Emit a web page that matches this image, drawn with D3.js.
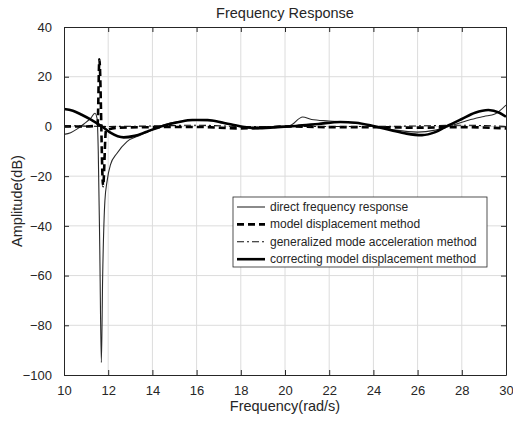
<!DOCTYPE html>
<html>
<head>
<meta charset="utf-8">
<script src="https://cdn.jsdelivr.net/npm/d3@7"></script>
<style>
  body { margin: 0; background: #fff; }
  text { font-family: "Liberation Sans", Arial, sans-serif; fill: #262626; }
</style>
</head>
<body>
<div id="chart"></div>
<script>

// x: frequency (rad/s), y: amplitude (dB)
const directFreq    = [10, 10.3, 10.6, 10.9, 11.2, 11.4, 11.5, 11.55, 11.62, 11.69, 11.75, 11.85, 11.95, 12.1, 12.4, 12.85, 13.45, 14.05, 14.5, 15.1, 16, 16.8, 17.5, 18.2, 18.8, 19.5, 20.2, 20.8, 21.2, 22, 23, 24, 25, 26, 26.8, 27.5, 28.3, 29, 29.5, 30];
const directAmp     = [-3.2, -2.5, -1, 1, 3.2, 5.3, 3, -10, -50, -95, -60, -30, -22, -15.5, -10.8, -6.1, -3.5, -1.2, 0.6, 1.9, 2.4, 2.2, 1, -0.2, -0.6, 0, 0.3, 3.8, 2.8, 2.2, 1.5, 0.2, -1.5, -2.3, -1.5, 0.2, 2.5, 4, 5, 8.6];

const modalFreq     = [10, 11, 11.52, 11.6, 11.77, 11.9, 12.5, 14, 16, 18, 19, 20, 22, 24, 26, 28, 30];
const modalAmp      = [0, 0, 0.3, 27, -24, -1.5, -0.5, -0.3, -0.2, -0.8, -0.5, 0, -0.3, -0.3, -0.5, -0.3, -0.8];

const accelFreq     = [10, 12, 14, 16, 18, 20, 22, 24, 26, 28, 30];
const accelAmp      = [0.4, 0, 0.2, 0.5, 0, 0, 0, 0, 0.2, 0.5, 0];

const correctFreq   = [10, 10.4, 10.8, 11.2, 11.5, 11.75, 12.1, 12.7, 13.2, 13.75, 14.5, 15.2, 15.8, 16.5, 17.2, 18, 18.7, 19.5, 20.5, 21.5, 22.5, 23.2, 24, 24.8, 25.5, 26.2, 26.8, 27.3, 28, 28.6, 29.2, 29.7, 30];
const correctAmp    = [7, 6.3, 4.7, 2.8, 1.2, -0.2, -2.5, -4.4, -3.8, -2.1, 0.3, 1.8, 2.6, 2.6, 1.5, 0, -0.7, -0.4, 0.2, 1, 1.8, 1.5, 0.2, -1.5, -2.9, -3.5, -2.3, 0, 3, 5.5, 6.6, 5.5, 3.9];

const xTicks = [10, 12, 14, 16, 18, 20, 22, 24, 26, 28, 30];
const yTicks = [-100, -80, -60, -40, -20, 0, 20, 40];

const seriesNames = [
  'direct frequency response',
  'model displacement method',
  'generalized mode acceleration method',
  'correcting model displacement method'
];

const width  = 513,
      height = 421,
      margin = { top: 27, right: 7, bottom: 46, left: 64 };

const x = d3.scaleLinear().domain([10, 30]).range([margin.left, width - margin.right]);
const y = d3.scaleLinear().domain([-100, 40]).range([height - margin.bottom, margin.top]);

const svg = d3.select('#chart').append('svg')
  .attr('width', width)
  .attr('height', height);

// Grid

const grid = svg.append('g').attr('stroke', '#dcdcdc').attr('stroke-width', 1);

xTicks.slice(1, -1).forEach((t) => {
  grid.append('line')
    .attr('x1', x(t)).attr('x2', x(t))
    .attr('y1', y(-100)).attr('y2', y(40));
});

yTicks.slice(1, -1).forEach((t) => {
  grid.append('line')
    .attr('x1', x(10)).attr('x2', x(30))
    .attr('y1', y(t)).attr('y2', y(t));
});

// Lines

svg.append('clipPath').attr('id', 'plot-clip')
  .append('rect')
  .attr('x', x(10)).attr('y', y(40))
  .attr('width', x(30) - x(10)).attr('height', y(-100) - y(40));

const line = d3.line()
  .x((d) => x(d[0]))
  .y((d) => y(d[1]))
  .curve(d3.curveMonotoneX);

const series = [
  { freq: directFreq,  amp: directAmp,  stroke: '#2a2a2a', width: 1.1, dash: null },
  { freq: modalFreq,   amp: modalAmp,   stroke: '#000',    width: 2.6, dash: '7,4' },
  { freq: accelFreq,   amp: accelAmp,   stroke: '#111',    width: 1.1, dash: '7,3,2,3' },
  { freq: correctFreq, amp: correctAmp, stroke: '#000',    width: 2.6, dash: null }
];

const lines = svg.append('g').attr('clip-path', 'url(#plot-clip)');

series.forEach((s) => {
  lines.append('path')
    .datum(s.freq.map((f, i) => [f, s.amp[i]]))
    .attr('fill', 'none')
    .attr('stroke', s.stroke)
    .attr('stroke-width', s.width)
    .attr('stroke-dasharray', s.dash)
    .attr('stroke-linejoin', 'round')
    .attr('d', line);
});

// Axes (box with inward ticks on all sides)

const axisColor = '#262626';

svg.append('g')
  .attr('transform', `translate(0,${y(-100)})`)
  .call(d3.axisBottom(x).tickValues(xTicks).tickSizeInner(-5).tickSizeOuter(0).tickPadding(11))
  .call((g) => g.selectAll('text').attr('font-size', 13).attr('fill', axisColor));

svg.append('g')
  .attr('transform', `translate(0,${y(40)})`)
  .call(d3.axisTop(x).tickValues(xTicks).tickSizeInner(-5).tickSizeOuter(0).tickFormat(''));

svg.append('g')
  .attr('transform', `translate(${x(10)},0)`)
  .call(d3.axisLeft(y).tickValues(yTicks).tickSizeInner(-5).tickSizeOuter(0).tickPadding(12))
  .call((g) => g.selectAll('text').attr('font-size', 13).attr('fill', axisColor));

svg.append('g')
  .attr('transform', `translate(${x(30)},0)`)
  .call(d3.axisRight(y).tickValues(yTicks).tickSizeInner(-5).tickSizeOuter(0).tickFormat(''));

svg.selectAll('.domain, .tick line').attr('stroke', axisColor);

// Titles

svg.append('text')
  .attr('x', (x(10) + x(30)) / 2)
  .attr('y', 18)
  .attr('text-anchor', 'middle')
  .attr('font-size', 14.5)
  .text('Frequency Response');

svg.append('text')
  .attr('x', (x(10) + x(30)) / 2)
  .attr('y', 411)
  .attr('text-anchor', 'middle')
  .attr('font-size', 14.5)
  .text('Frequency(rad/s)');

svg.append('text')
  .attr('transform', `translate(22,${(y(-100) + y(40)) / 2}) rotate(-90)`)
  .attr('text-anchor', 'middle')
  .attr('font-size', 14.5)
  .text('Amplitude(dB)');

// Legend

const legend = svg.append('g').attr('transform', 'translate(233,197)');

legend.append('rect')
  .attr('width', 254)
  .attr('height', 70)
  .attr('fill', '#fff')
  .attr('stroke', axisColor)
  .attr('stroke-width', 0.8);

seriesNames.forEach((name, i) => {

  const s  = series[i],
        ry = 10 + i * 17.4;

  legend.append('line')
    .attr('x1', 4).attr('x2', 32)
    .attr('y1', ry).attr('y2', ry)
    .attr('stroke', s.stroke)
    .attr('stroke-width', s.width)
    .attr('stroke-dasharray', s.dash);

  legend.append('text')
    .attr('x', 37)
    .attr('y', ry + 4)
    .attr('font-size', 12)
    .text(name);

});

</script>
</body>
</html>
